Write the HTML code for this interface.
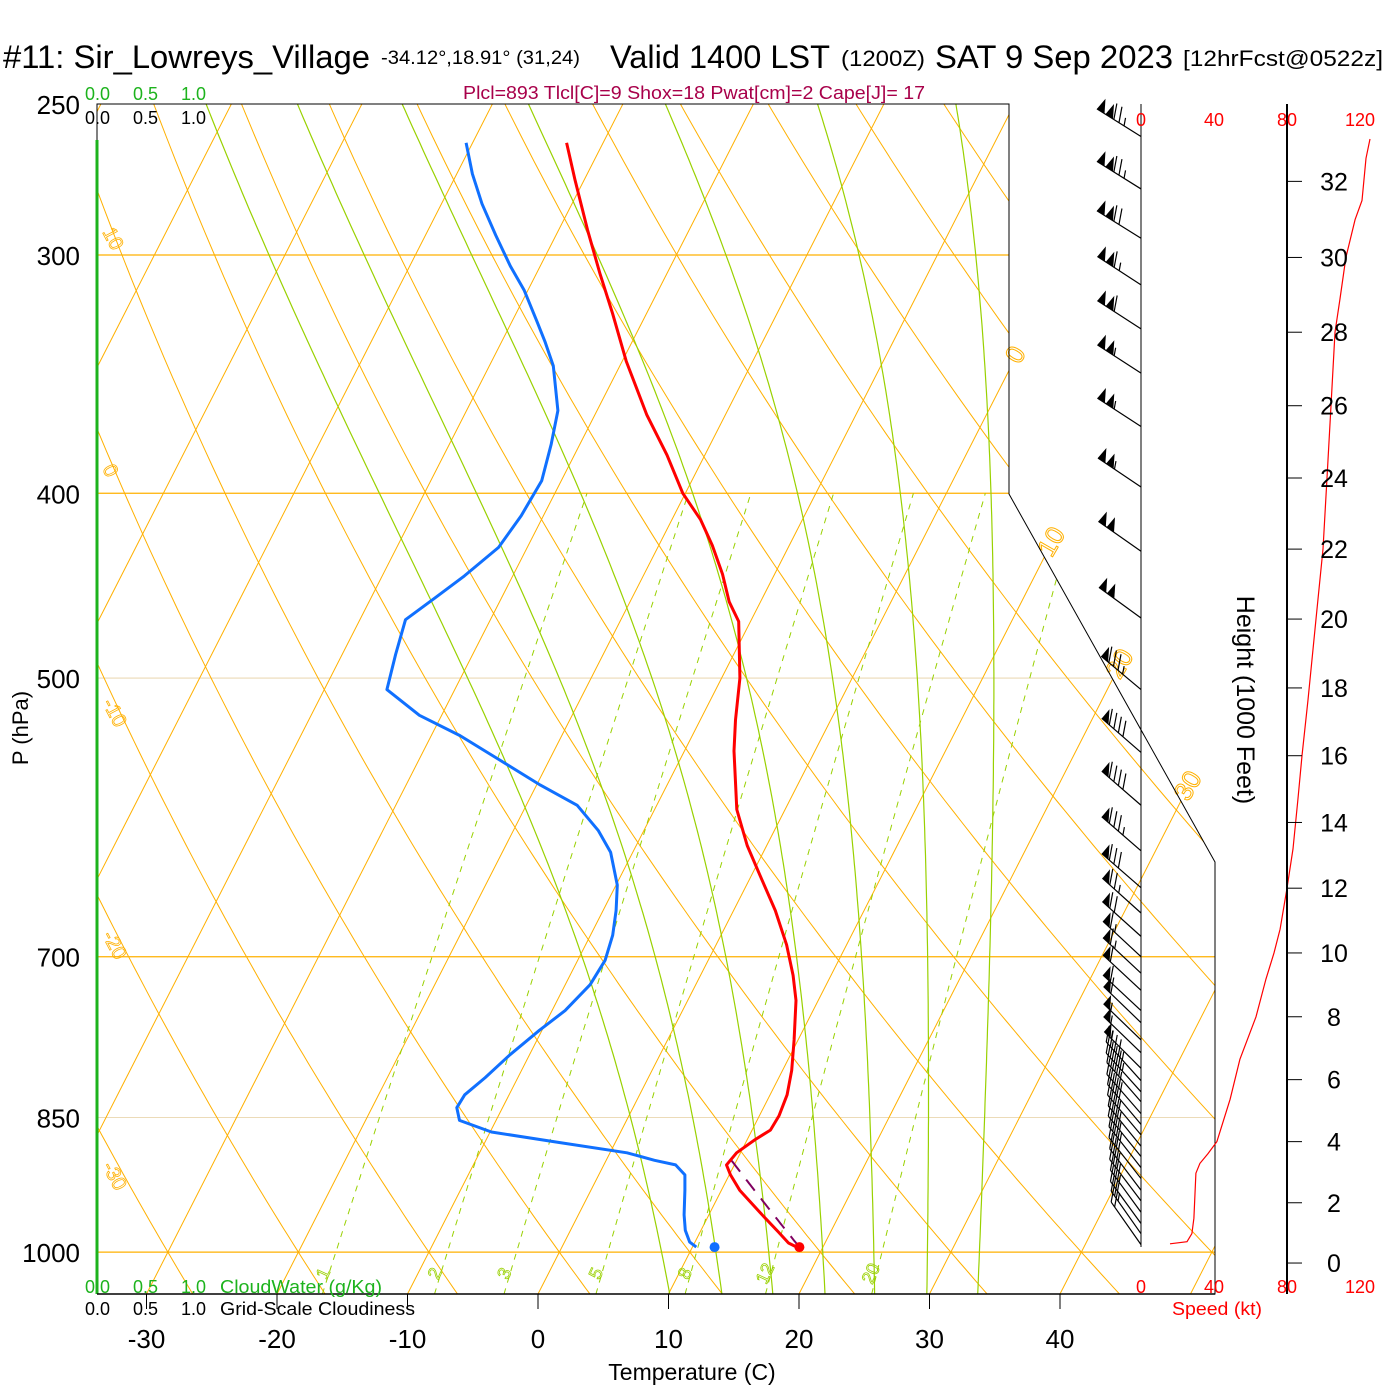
<!DOCTYPE html>
<html><head><meta charset="utf-8">
<style>
body{margin:0;background:#fff}
svg{display:block}
text{font-family:"Liberation Sans",sans-serif}
</style></head>
<body>
<svg id="c" width="1400" height="1400" viewBox="0 0 1400 1400">
<defs><clipPath id="plotclip"><polygon points="97,104 1009,104 1009,494 1215,862 1215,1294 97,1294"/></clipPath></defs>
<rect x="0" y="0" width="1400" height="1400" fill="#fff"/>
<g id="bg" clip-path="url(#plotclip)"></g>
<g id="bglabels"></g>
<g id="frame">
 <polyline points="97,1294 97,104 1009,104 1009,494 1215,862 1215,1294 97,1294" fill="none" stroke="#000" stroke-width="1"/>
 <line x1="97" y1="140" x2="97" y2="1294" stroke="#1db31d" stroke-width="3"/>
</g>
<g id="data"></g>
<g id="axes"></g>

<text x="3" y="68" font-size="32" textLength="367" lengthAdjust="spacingAndGlyphs">#11: Sir_Lowreys_Village</text>
<text x="381" y="64" font-size="19" textLength="199" lengthAdjust="spacingAndGlyphs">-34.12°,18.91° (31,24)</text>
<text x="610" y="68" font-size="32" textLength="220" lengthAdjust="spacingAndGlyphs">Valid 1400 LST</text>
<text x="841" y="66" font-size="22" textLength="84" lengthAdjust="spacingAndGlyphs">(1200Z)</text>
<text x="935" y="68" font-size="32" textLength="238" lengthAdjust="spacingAndGlyphs">SAT 9 Sep 2023</text>
<text x="1183" y="66" font-size="22" textLength="200" lengthAdjust="spacingAndGlyphs">[12hrFcst@0522z]</text>
<text x="463" y="99" font-size="18" fill="#a8004a" textLength="462" lengthAdjust="spacingAndGlyphs">Plcl=893 Tlcl[C]=9 Shox=18 Pwat[cm]=2 Cape[J]= 17</text>

<g font-size="18">
 <text x="85" y="100" fill="#1db31d">0.0</text><text x="133" y="100" fill="#1db31d">0.5</text><text x="181" y="100" fill="#1db31d">1.0</text>
 <text x="85" y="124">0.0</text><text x="133" y="124">0.5</text><text x="181" y="124">1.0</text>
 <text x="85" y="1293" fill="#1db31d">0.0</text><text x="133" y="1293" fill="#1db31d">0.5</text><text x="181" y="1293" fill="#1db31d">1.0</text>
 <text x="220" y="1293" fill="#1db31d" textLength="162" lengthAdjust="spacingAndGlyphs">CloudWater (g/Kg)</text>
 <text x="85" y="1315">0.0</text><text x="133" y="1315">0.5</text><text x="181" y="1315">1.0</text>
 <text x="220" y="1315" textLength="195" lengthAdjust="spacingAndGlyphs">Grid-Scale Cloudiness</text>
</g>
<text x="692" y="1380" font-size="23" text-anchor="middle">Temperature (C)</text>
<text transform="translate(28,728) rotate(-90)" font-size="22" text-anchor="middle">P (hPa)</text>
<text transform="translate(1237,700) rotate(90)" font-size="25" text-anchor="middle">Height (1000 Feet)</text>
<text x="1172" y="1315" font-size="18" fill="#f00" textLength="90" lengthAdjust="spacingAndGlyphs">Speed (kt)</text>
</svg>
<script>
const pressureTicks=[250,300,400,500,700,850,1000];
const tempTicks=[-30,-20,-10,0,10,20,30,40];
const heightTicks=[0,2,4,6,8,10,12,14,16,18,20,22,24,26,28,30,32];
const speedTicks=[0,40,80,120];
const tempP=[262,274,291,307,322,341,364,382,400,413,426,441,456,467,500,526,546,586,612,634,662,690,716,738,774,803,827,848,863,873,887,900,911,928,953,976,989,994];
const tempT=[-42.8,-40.7,-37.8,-35.1,-32.6,-29.7,-26.0,-22.9,-20.2,-17.8,-15.9,-14.0,-12.4,-10.9,-8.6,-7.3,-6.2,-3.7,-1.5,0.6,3.2,5.4,7.1,8.3,9.7,10.7,11.3,11.5,11.4,10.6,9.7,9.4,10.1,11.4,13.8,16.0,17.2,18.0];
const dewP=[262,272,282,293,304,313,325,333,343,362,377,394,411,427,442,454,466,486,507,523,536,552,569,583,601,617,642,662,682,703,724,747,765,788,810,827,840,853,865,876,887,895,900,911,928,956,974,988,994];
const dewT=[-50.5,-48.8,-46.9,-44.6,-42.3,-40.3,-38.1,-36.7,-35.1,-33.0,-32.2,-31.5,-31.7,-32.2,-33.7,-35.1,-36.5,-35.9,-35.2,-31.7,-27.8,-23.8,-19.7,-16.1,-13.5,-11.7,-9.9,-9.0,-8.3,-7.9,-8.1,-9.0,-10.2,-11.5,-12.5,-13.4,-13.5,-12.8,-9.9,-4.3,1.3,3.7,5.5,6.6,7.2,8.1,8.8,9.6,10.3];
const sfcP=994, sfcT=18.2, sfcTd=11.7, lclP=893;
const windP=[260,277,294,311,328,346,369,397,429,465,507,547,583,616,644,664,683,700,714,729,747,758,774,786,801,813,824,834,846,857,868,880,891,903,915,928,940,953,966,978,991];
const windSpd=[125,125,120,115,110,105,105,105,100,100,85,90,90,85,80,75,70,65,65,60,60,60,55,55,55,45,45,40,40,40,35,35,35,35,30,30,30,30,30,25,20];
const windDir=[302,302,302,303,303,303,303,304,305,306,310,311,311,311,311,312,312,313,313,313,313,314,314,314,315,318,318,319,319,320,320,321,321,322,322,323,323,324,324,325,325];
const profHeight=[0.64,0.71,0.98,1.49,2.97,3.29,3.61,4.0,5.37,6.65,8.0,9.19,10.0,10.74,12.0,13.2,14.72,16.0,17.65,20.0,22.0,24.0,26.0,28.0,28.88,30.0,31.0,31.5,32.6,33.1];
const profSpeed=[15.9,25.2,27.9,29.0,30.1,32.3,36.7,41.6,48.8,54.2,63.0,68.5,72.9,76.2,80.0,83.3,86.0,88.2,91.5,95.9,99.7,101.9,104.1,106.3,109.0,112.3,117.3,121.1,123.3,125.5];
const isoTemps=[-110,-100,-90,-80,-70,-60,-50,-40,-30,-20,-10,0,10,20,30,40,50];
const thetaVals=[-50,-40,-30,-20,-10,0,10,20,30,40,50,60,70,80,90,100,110,120,130,140];
const moistStart=[10.1,14.1,18.0,22.0,25.8,29.8,33.7];
const mixRatios=[1,2,3,5,8,12,20];
const dryLabels=[10,0,-10,-20,-30];
const isoLabels=[0,10,20,30];

const NS='http://www.w3.org/2000/svg';
const PBOT=1052;
function yP(p){return 104+Math.log(p/250)*828.2;}
function xT(T,p){return 538+13.05*T+0.51*(1294-yP(p));}
function pOfY(y){return 250*Math.exp((y-104)/828.2);}
function pStd(kft){const m=kft*304.8;return 1013.25*Math.pow(1-0.0065*m/288.15,5.256);}
function xSpd(s){return 1141+s*1.825;}
function esat(Tc){return 6.112*Math.exp(17.67*Tc/(Tc+243.5));}
function tdOfW(w,p){const e=w/1000*p/(0.622+w/1000);const l=Math.log(e/6.112);return 243.5*l/(17.67-l);}
function mk(tag,parent){const e=document.createElementNS(NS,tag);parent.appendChild(e);return e;}
function pts(a){return a.map(q=>q[0].toFixed(1)+','+q[1].toFixed(1)).join(' ');}

const bg=document.getElementById('bg');
const bgl=document.getElementById('bglabels');
const dg=document.getElementById('data');
const ax=document.getElementById('axes');
const ORANGE='#ffb000', GREEN='#99d100';

function rightX(y){if(y<=494)return 1009;if(y<=862)return 1009+(y-494)*206/368;return 1215;}
pressureTicks.forEach(p=>{
  if(p===250)return;
  const y=yP(p);
  const l=mk('line',bg);
  
  
  l.setAttribute('x1',97);l.setAttribute('x2',rightX(y));l.setAttribute('y1',y);l.setAttribute('y2',y);
  l.setAttribute('stroke',ORANGE);l.setAttribute('stroke-width',(p===500||p===850)?0.8:1.3);
  if(p===500||p===850)l.setAttribute('stroke','#e6cfa0');
});

isoTemps.forEach(T=>{
  const l=mk('line',bg);
  
  
  l.setAttribute('x1',xT(T,PBOT));l.setAttribute('y1',yP(PBOT));
  l.setAttribute('x2',xT(T,240));l.setAttribute('y2',yP(240));
  l.setAttribute('stroke',ORANGE);l.setAttribute('stroke-width',1);
});

thetaVals.forEach(th=>{
  const a=[];
  for(let p=PBOT;p>=240;p-=8){const T=(th+273.15)*Math.pow(p/1000,0.286)-273.15;a.push([xT(T,p),yP(p)]);}
  const l=mk('polyline',bg);
  
  
  l.setAttribute('points',pts(a));l.setAttribute('fill','none');l.setAttribute('stroke',ORANGE);l.setAttribute('stroke-width',1);
});

moistStart.forEach(T0=>{
  let T=T0+273.15, lp=Math.log(PBOT);const a=[[xT(T0,PBOT),yP(PBOT)]];
  const dl=-0.01;
  while(Math.exp(lp)>240){
    const p=Math.exp(lp);const Tc=T-273.15;const es=esat(Tc);const rs=0.622*es/(p-es);
    const g=(287*T+2.5e6*rs)/(1004+2.5e6*2.5e6*rs*0.622/(287*T*T));
    T+=g*dl;lp+=dl;
    a.push([xT(T-273.15,Math.exp(lp)),yP(Math.exp(lp))]);
  }
  const l=mk('polyline',bg);
  
  
  l.setAttribute('points',pts(a));l.setAttribute('fill','none');l.setAttribute('stroke',GREEN);l.setAttribute('stroke-width',1.2);
});

mixRatios.forEach(w=>{
  const a=[];
  for(let p=PBOT;p>=400;p-=10){a.push([xT(tdOfW(w,p),p),yP(p)]);}
  a.push([xT(tdOfW(w,400),400),yP(400)]);
  const l=mk('polyline',bg);
  
  
  l.setAttribute('points',pts(a));l.setAttribute('fill','none');l.setAttribute('stroke',GREEN);l.setAttribute('stroke-width',1);l.setAttribute('stroke-dasharray','6,6');
  const t=mk('text',bgl);
  
  
  const lx=xT(tdOfW(w,1028),1028), ly=1276;
  t.setAttribute('transform','translate('+lx.toFixed(1)+','+ly+') rotate(-65)');
  t.setAttribute('font-size','18');t.setAttribute('fill','none');t.setAttribute('stroke',GREEN);t.setAttribute('stroke-width','0.8');t.setAttribute('text-anchor','middle');
  t.textContent=w;
});

dryLabels.forEach(th=>{
  let best=null;
  for(let p=250;p<=1052;p+=1){const T=(th+273.15)*Math.pow(p/1000,0.286)-273.15;if(xT(T,p)>=97){best=p;break;}}
  if(best===null)return;
  const t=mk('text',bgl);
  
  
  t.setAttribute('transform','translate(102,'+(yP(best)+40).toFixed(1)+') rotate(62)');
  t.setAttribute('font-size','20');t.setAttribute('fill','none');t.setAttribute('stroke',ORANGE);t.setAttribute('stroke-width','0.8');
  t.textContent=th;
});

isoLabels.forEach(T=>{
  let yy=null;
  for(let y=104;y<=1294;y++){if(xT(T,pOfY(y))<=rightX(y)){yy=y;break;}}
  if(yy===null)return;
  const t=mk('text',bgl);
  
  
  t.setAttribute('transform','translate('+(rightX(yy)+14).toFixed(1)+','+(yy-12)+') rotate(-60)');
  t.setAttribute('font-size','26');t.setAttribute('fill','none');t.setAttribute('stroke',ORANGE);t.setAttribute('stroke-width','1');t.setAttribute('text-anchor','middle');
  t.textContent=T;
});

(function(){
  const th=(sfcT+273.15)/Math.pow(sfcP/1000,0.286);const a=[];
  for(let p=sfcP;p>=lclP;p-=2){a.push([xT(th*Math.pow(p/1000,0.286)-273.15,p),yP(p)]);}
  const l=mk('polyline',dg);
  
  
  l.setAttribute('points',pts(a));l.setAttribute('fill','none');l.setAttribute('stroke','#800060');l.setAttribute('stroke-width',2);l.setAttribute('stroke-dasharray','14,10');
})();

const tl=mk('polyline',dg);


tl.setAttribute('points',pts(tempP.map((p,i)=>[xT(tempT[i],p),yP(p)])));
tl.setAttribute('fill','none');tl.setAttribute('stroke','#ff0000');tl.setAttribute('stroke-width',3);tl.setAttribute('stroke-linejoin','round');
const dl2=mk('polyline',dg);


dl2.setAttribute('points',pts(dewP.map((p,i)=>[xT(dewT[i],p),yP(p)])));
dl2.setAttribute('fill','none');dl2.setAttribute('stroke','#1070ff');dl2.setAttribute('stroke-width',3);dl2.setAttribute('stroke-linejoin','round');
const d1=mk('circle',dg);


d1.setAttribute('cx',xT(sfcT,sfcP));d1.setAttribute('cy',yP(sfcP));d1.setAttribute('r',5);d1.setAttribute('fill','#ff0000');
const d2=mk('circle',dg);


d2.setAttribute('cx',xT(sfcTd,sfcP));d2.setAttribute('cy',yP(sfcP));d2.setAttribute('r',5);d2.setAttribute('fill','#1070ff');

pressureTicks.forEach(p=>{
  const t=mk('text',ax);
  
  
  t.setAttribute('x',80);t.setAttribute('y',(yP(p)+10).toFixed(1));t.setAttribute('font-size','26');t.setAttribute('text-anchor','end');
  t.textContent=p;
});

const bl=mk('line',ax);


bl.setAttribute('x1',97);bl.setAttribute('x2',1215);bl.setAttribute('y1',1294);bl.setAttribute('y2',1294);bl.setAttribute('stroke','#000');bl.setAttribute('stroke-width',1.5);
tempTicks.forEach(T=>{
  const x=538+13.05*T;
  const tk=mk('line',ax);
  
  
  tk.setAttribute('x1',x);tk.setAttribute('x2',x);tk.setAttribute('y1',1294);tk.setAttribute('y2',1309);tk.setAttribute('stroke','#000');
  const t=mk('text',ax);
  
  
  t.setAttribute('x',x);t.setAttribute('y',1348);t.setAttribute('font-size','26');t.setAttribute('text-anchor','middle');
  t.textContent=T;
});

const wl=mk('line',ax);


wl.setAttribute('x1',1141);wl.setAttribute('x2',1141);wl.setAttribute('y1',104);wl.setAttribute('y2',1247);wl.setAttribute('stroke','#000');

windP.forEach((p,i)=>{
  const g=mk('g',dg);
  
  
  const by=yP(p), bx=1141, r=windDir[i]*Math.PI/180;
  const ux=Math.sin(r), uy=-Math.cos(r), L=52;
  const tx=bx+ux*L, ty=by+uy*L;
  const s0=mk('line',g);
  s0.setAttribute('x1',bx);s0.setAttribute('y1',by);s0.setAttribute('x2',tx);s0.setAttribute('y2',ty);s0.setAttribute('stroke','#000');s0.setAttribute('stroke-width',1.2);
  let rem=Math.round(windSpd[i]/5)*5, s=0;
  while(rem>=50){
    const ax1=tx-ux*s, ay1=ty-uy*s, bx1=tx-ux*(s+9), by1=ty-uy*(s+9);
    const f=mk('polygon',g);
    f.setAttribute('points',ax1.toFixed(1)+','+ay1.toFixed(1)+' '+bx1.toFixed(1)+','+by1.toFixed(1)+' '+(bx1+1).toFixed(1)+','+(by1-15).toFixed(1));
    f.setAttribute('fill','#000');
    s+=10;rem-=50;
  }
  while(rem>=10){
    const cx=tx-ux*s, cy=ty-uy*s;
    const b=mk('line',g);
    b.setAttribute('x1',cx);b.setAttribute('y1',cy);b.setAttribute('x2',cx+3);b.setAttribute('y2',cy-16);b.setAttribute('stroke','#000');b.setAttribute('stroke-width',1.2);
    s+=6;rem-=10;
  }
  if(rem>=5){
    if(s===0)s=6;
    const cx=tx-ux*s, cy=ty-uy*s;
    const b=mk('line',g);
    b.setAttribute('x1',cx);b.setAttribute('y1',cy);b.setAttribute('x2',cx+1.5);b.setAttribute('y2',cy-8);b.setAttribute('stroke','#000');b.setAttribute('stroke-width',1.2);
  }
});

const hl=mk('line',ax);


hl.setAttribute('x1',1287);hl.setAttribute('x2',1287);hl.setAttribute('y1',104);hl.setAttribute('y2',1294);hl.setAttribute('stroke','#000');hl.setAttribute('stroke-width',2);
heightTicks.forEach(h=>{
  const y=yP(pStd(h));
  const tk=mk('line',ax);
  
  
  tk.setAttribute('x1',1287);tk.setAttribute('x2',1302);tk.setAttribute('y1',y);tk.setAttribute('y2',y);tk.setAttribute('stroke','#000');
  const t=mk('text',ax);
  
  
  t.setAttribute('x',1334);t.setAttribute('y',(y+9).toFixed(1));t.setAttribute('font-size','25');t.setAttribute('text-anchor','middle');
  t.textContent=h;
});

speedTicks.forEach(s=>{
  [126,1293].forEach(yy=>{
    const t=mk('text',ax);
    
    
    t.setAttribute('x',xSpd(s));t.setAttribute('y',yy);t.setAttribute('font-size','18');t.setAttribute('fill','#f00');t.setAttribute('text-anchor','middle');
    t.textContent=s;
  });
});

const sp=mk('polyline',dg);


sp.setAttribute('points',pts(profHeight.map((h,i)=>[xSpd(profSpeed[i]),yP(pStd(h))])));
sp.setAttribute('fill','none');sp.setAttribute('stroke','#f00');sp.setAttribute('stroke-width',1.2);
</script>
</body></html>
